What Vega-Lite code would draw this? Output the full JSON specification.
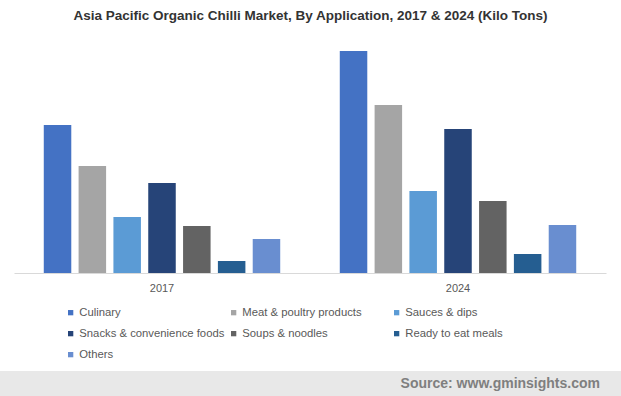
{
  "$schema": "https://vega.github.io/schema/vega-lite/v6.json",
  "padding": {"top": 8, "left": 0, "right": 0, "bottom": 0},
  "background": "white",
  "title": {
    "text": "Asia Pacific Organic Chilli Market, By Application, 2017 & 2024 (Kilo Tons)",
    "anchor": "middle",
    "font": "Liberation Sans",
    "fontSize": 13.5,
    "fontWeight": "bold",
    "color": "#333333",
    "offset": 18
  },
  "config": {"view": {"stroke": null}},
  "spacing": 78,
  "resolve": {"scale": {"x": "independent", "y": "independent"}},
  "vconcat": [
    {
      "width": 621,
      "height": 233,
      "data": {
        "values": [
          {"year": "2017", "application": "Culinary", "value": 14.8},
          {"year": "2017", "application": "Meat & poultry products", "value": 10.7},
          {"year": "2017", "application": "Sauces & dips", "value": 5.6},
          {"year": "2017", "application": "Snacks & convenience foods", "value": 9.0},
          {"year": "2017", "application": "Soups & noodles", "value": 4.7},
          {"year": "2017", "application": "Ready to eat meals", "value": 1.2},
          {"year": "2017", "application": "Others", "value": 3.4},
          {"year": "2024", "application": "Culinary", "value": 22.2},
          {"year": "2024", "application": "Meat & poultry products", "value": 16.8},
          {"year": "2024", "application": "Sauces & dips", "value": 8.2},
          {"year": "2024", "application": "Snacks & convenience foods", "value": 14.4},
          {"year": "2024", "application": "Soups & noodles", "value": 7.2},
          {"year": "2024", "application": "Ready to eat meals", "value": 1.9},
          {"year": "2024", "application": "Others", "value": 4.8}
        ]
      },
      "mark": {"type": "bar"},
      "encoding": {
        "x": {
          "field": "year",
          "type": "nominal",
          "scale": {"range": [14, 606], "paddingInner": 0, "paddingOuter": 0},
          "axis": {
            "title": null,
            "labelAngle": 0,
            "ticks": false,
            "domainColor": "#d9d9d9",
            "domainWidth": 1,
            "labelFont": "Liberation Sans",
            "labelFontSize": 11,
            "labelColor": "#595959",
            "labelPadding": 9,
            "grid": false
          }
        },
        "xOffset": {
          "field": "application",
          "type": "nominal",
          "sort": ["Culinary", "Meat & poultry products", "Sauces & dips", "Snacks & convenience foods", "Soups & noodles", "Ready to eat meals", "Others"],
          "scale": {"paddingInner": 0.21, "paddingOuter": 0.855}
        },
        "y": {
          "field": "value",
          "type": "quantitative",
          "scale": {"domain": [0, 23.3], "nice": false},
          "axis": null
        },
        "color": {
          "field": "application",
          "type": "nominal",
          "scale": {
            "domain": ["Culinary", "Meat & poultry products", "Sauces & dips", "Snacks & convenience foods", "Soups & noodles", "Ready to eat meals", "Others"],
            "range": ["#4472C4", "#A5A5A5", "#5B9BD5", "#264478", "#636363", "#255E91", "#698ED0"]
          },
          "legend": {
            "title": null,
            "orient": "none",
            "legendX": 65,
            "legendY": 267,
            "direction": "horizontal",
            "columns": 3,
            "gridAlign": "all",
            "symbolType": "square",
            "symbolSize": 28,
            "symbolStrokeWidth": 0,
            "labelFont": "Liberation Sans",
            "labelFontSize": 11.3,
            "labelColor": "#595959",
            "labelOffset": 3,
            "columnPadding": 3,
            "rowPadding": 9,
            "labelLimit": 0
          }
        }
      }
    },
    {
      "width": 621,
      "height": 25,
      "view": {"fill": "#e8e8e8", "stroke": null},
      "data": {"values": [{"label": "Source: www.gminsights.com"}]},
      "mark": {
        "type": "text",
        "align": "right",
        "baseline": "middle",
        "dx": -21,
        "font": "Liberation Sans",
        "fontSize": 14,
        "fontWeight": "bold",
        "color": "#7f7f7f"
      },
      "encoding": {
        "text": {"field": "label"},
        "x": {"datum": 1, "type": "quantitative", "scale": {"domain": [0, 1]}, "axis": null},
        "y": {"datum": 0.5, "type": "quantitative", "scale": {"domain": [0, 1]}, "axis": null}
      }
    }
  ]
}
